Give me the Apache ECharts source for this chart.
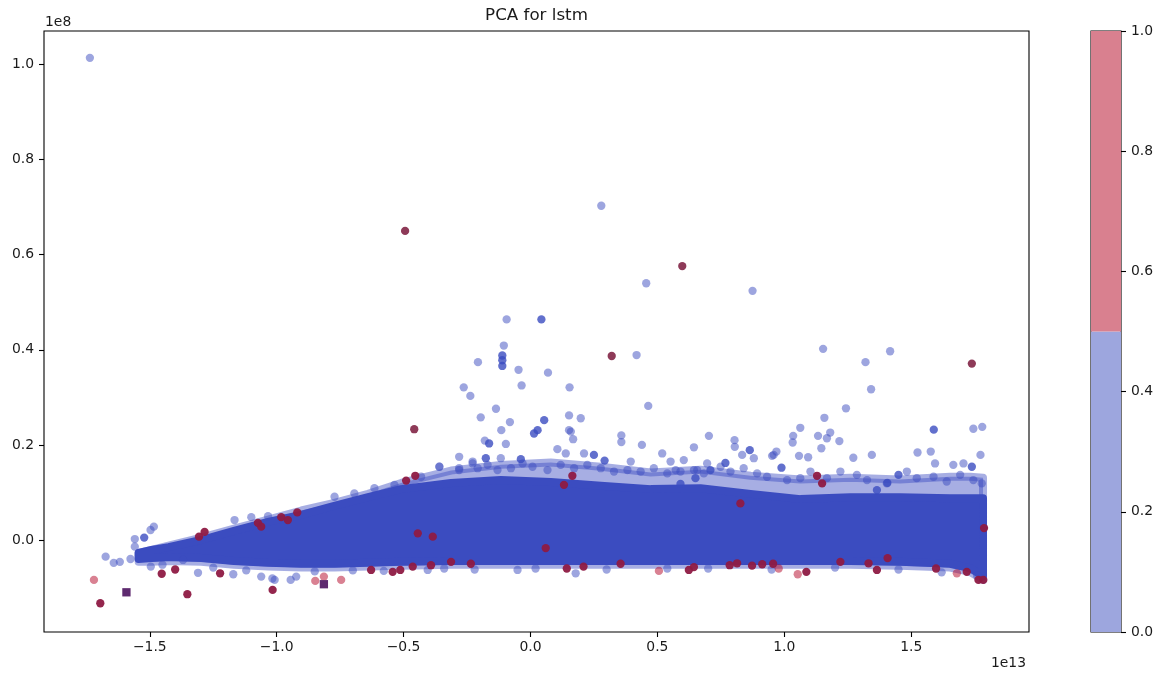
<!DOCTYPE html>
<html>
<head>
<meta charset="utf-8">
<title>PCA for lstm</title>
<script src="https://cdn.jsdelivr.net/npm/echarts@6/dist/echarts.min.js"></script>
<style>
  html, body { margin: 0; padding: 0; background: #fff; }
  #chart { width: 1161px; height: 678px; }
</style>
</head>
<body>
<div id="chart"></div>
<script>
// PC1 in units of 1e13, PC2 in units of 1e8.

// Axis ranges and tick labels
const xRange = [-1.9168, 1.9642];
const yRange = [-0.1935, 1.0705];
const xTicks = [-1.5, -1.0, -0.5, 0.0, 0.5, 1.0, 1.5];
const yTicks = [0.0, 0.2, 0.4, 0.6, 0.8, 1.0];

// Envelope of the dense class-0 cloud (point centres)
const cloudX      = [-1.544, -1.493, -1.426, -1.297, -1.168, -1.034, -0.903, -0.773, -0.640, -0.510, -0.313, -0.117, 0.080, 0.277, 0.474, 0.670, 0.867, 1.064, 1.260, 1.456, 1.653, 1.732, 1.783];
const coreTop     = [-0.027, -0.021, -0.015, 0.000, 0.019, 0.038, 0.053, 0.072, 0.090, 0.107, 0.120, 0.126, 0.122, 0.114, 0.107, 0.109, 0.097, 0.086, 0.090, 0.090, 0.088, 0.088, 0.088];
const coreBottom  = [-0.040, -0.038, -0.036, -0.038, -0.044, -0.048, -0.050, -0.050, -0.048, -0.046, -0.044, -0.044, -0.044, -0.044, -0.044, -0.044, -0.044, -0.044, -0.044, -0.046, -0.050, -0.059, -0.076];
const fringeTop   = [-0.027, -0.021, -0.012, 0.005, 0.024, 0.043, 0.062, 0.078, 0.097, 0.120, 0.146, 0.158, 0.163, 0.154, 0.142, 0.148, 0.135, 0.127, 0.131, 0.127, 0.133, 0.133, 0.131];
const fringeBottom= [-0.046, -0.046, -0.044, -0.046, -0.052, -0.056, -0.058, -0.058, -0.056, -0.054, -0.052, -0.052, -0.052, -0.052, -0.052, -0.052, -0.052, -0.052, -0.052, -0.054, -0.058, -0.067, -0.084];

// Scattered class-0 points outside the dense cloud
const class0Sparse = [
  [-1.736, 1.014], [0.279, 0.703], [0.456, 0.540], [0.875, 0.524], [-0.094, 0.464],
  [-0.105, 0.409], [-0.207, 0.374], [-0.047, 0.358], [0.069, 0.352], [0.418, 0.389],
  [-0.263, 0.321], [-0.035, 0.325], [0.154, 0.321], [-0.237, 0.303], [-0.136, 0.276],
  [0.464, 0.282], [-0.196, 0.258], [-0.081, 0.248], [0.152, 0.262], [0.198, 0.256],
  [-0.115, 0.231], [0.152, 0.231], [0.703, 0.219], [0.358, 0.220], [0.358, 0.206],
  [0.439, 0.200], [0.644, 0.195], [0.804, 0.210], [-0.180, 0.209], [-0.097, 0.202],
  [1.153, 0.402], [1.417, 0.397], [1.320, 0.374], [1.342, 0.317], [1.243, 0.277],
  [1.158, 0.257], [1.063, 0.236], [1.745, 0.234], [1.780, 0.238], [1.035, 0.219],
  [1.033, 0.205], [1.133, 0.219], [1.181, 0.226], [1.217, 0.208], [1.146, 0.193],
  [1.058, 0.177], [1.094, 0.174], [1.272, 0.173], [1.345, 0.179], [1.525, 0.184],
  [1.577, 0.186], [1.773, 0.179], [0.952, 0.177], [1.168, 0.214], [0.805, 0.196],
  [0.834, 0.179], [0.880, 0.172], [0.958, 0.179], [0.969, 0.186], [1.594, 0.161],
  [1.666, 0.158], [1.706, 0.161], [-1.674, -0.035], [-1.642, -0.048], [-1.618, -0.046],
  [-1.576, -0.040], [-1.559, 0.002], [-1.497, 0.021], [-1.484, 0.028], [-1.559, -0.014],
  [-1.496, -0.056], [-1.369, -0.042], [-1.310, -0.069], [-1.171, -0.072], [-1.061, -0.077],
  [-1.008, -0.084], [-0.945, -0.084], [-0.923, -0.077], [-1.017, -0.081], [-0.578, -0.065],
  [-0.405, -0.063], [-0.340, -0.060], [-0.051, -0.063], [0.178, -0.070], [0.539, -0.060],
  [-0.281, 0.175], [-0.359, 0.154], [-0.281, 0.147], [-0.228, 0.165], [-0.208, 0.151],
  [-0.117, 0.172], [0.106, 0.191], [0.139, 0.182], [0.211, 0.182], [0.168, 0.212],
  [0.395, 0.165], [0.519, 0.182], [0.552, 0.165], [0.572, 0.147], [0.604, 0.168],
  [0.657, 0.147], [0.159, 0.228],
  // along the upper edge of the cloud
  [-0.431, 0.133], [-0.359, 0.154], [-0.281, 0.151], [-0.228, 0.161], [-0.169, 0.158],
  [-0.130, 0.147], [-0.077, 0.151], [-0.031, 0.161], [0.008, 0.154], [0.067, 0.147],
  [0.119, 0.158], [0.172, 0.151], [0.224, 0.158], [0.277, 0.151], [0.329, 0.144],
  [0.382, 0.147], [0.434, 0.144], [0.486, 0.151], [0.539, 0.140], [0.591, 0.144],
  [0.644, 0.147], [0.683, 0.140], [0.696, 0.161], [0.749, 0.154], [0.788, 0.144],
  [0.840, 0.151], [0.893, 0.140], [0.932, 0.133], [1.011, 0.126], [1.063, 0.130],
  [1.103, 0.144], [1.168, 0.130], [1.221, 0.144], [1.286, 0.137], [1.326, 0.126],
  [1.404, 0.119], [1.483, 0.144], [1.522, 0.130], [1.588, 0.133], [1.640, 0.123],
  [1.693, 0.137], [1.745, 0.126], [1.778, 0.119], [-0.772, 0.091], [-0.694, 0.098],
  [-0.615, 0.109], [-0.536, 0.116], [-1.166, 0.042], [-1.100, 0.048], [-1.034, 0.050],
  // along the lower edge of the cloud
  [-1.450, -0.052], [-1.250, -0.058], [-1.120, -0.064], [-0.850, -0.066], [-0.700, -0.064],
  [-0.220, -0.062], [0.020, -0.060], [0.300, -0.062], [0.700, -0.060], [0.950, -0.062],
  [1.200, -0.058], [1.450, -0.062], [1.620, -0.068], [1.760, -0.075]
];

// Class-0 locations where several records coincide
const class0Stacked = [
  [0.043, 0.464], [-0.111, 0.388], [-0.111, 0.378], [-0.111, 0.366], [0.014, 0.224],
  [0.028, 0.231], [0.054, 0.252], [-0.163, 0.203], [-0.176, 0.172], [0.250, 0.179],
  [0.292, 0.167], [-0.038, 0.170], [1.589, 0.232], [0.864, 0.189], [0.989, 0.152],
  [-1.522, 0.005], [1.365, 0.105], [1.406, 0.120], [1.450, 0.137], [1.739, 0.154],
  [0.591, 0.118], [0.650, 0.130], [0.709, 0.147], [0.768, 0.162]
];

// Class-1 points
const class1Single = [
  [-1.720, -0.084], [-0.848, -0.086], [-0.814, -0.077], [0.506, -0.065], [0.978, -0.060],
  [1.053, -0.072], [1.680, -0.070], [-0.746, -0.084]
];
const class1Isolated = [
  [-0.494, 0.650], [0.598, 0.576], [0.320, 0.387], [1.739, 0.371], [-0.458, 0.233]
];
const class1Stacked = [
  [-1.695, -0.133], [-1.453, -0.071], [-1.400, -0.062], [-1.352, -0.114], [-1.223, -0.070],
  [-1.016, -0.105], [-0.628, -0.063], [-0.543, -0.067], [-0.513, -0.063], [-1.306, 0.007],
  [-1.284, 0.017], [-1.074, 0.036], [-1.061, 0.028], [-0.982, 0.048], [-0.956, 0.042],
  [-0.919, 0.058], [-0.490, 0.125], [-0.454, 0.135], [0.165, 0.135], [0.132, 0.116],
  [-0.464, -0.056], [-0.392, -0.053], [-0.313, -0.046], [-0.235, -0.050], [0.143, -0.060],
  [0.209, -0.056], [0.355, -0.050], [0.624, -0.063], [0.644, -0.057], [0.785, -0.053],
  [0.814, -0.049], [0.873, -0.054], [0.913, -0.051], [0.956, -0.050], [1.087, -0.067],
  [1.221, -0.046], [1.332, -0.049], [1.365, -0.063], [1.407, -0.038], [1.598, -0.060],
  [1.719, -0.067], [1.765, -0.084], [1.784, -0.084], [1.787, 0.025], [1.129, 0.135],
  [1.149, 0.119], [0.827, 0.077], [0.060, -0.017], [-0.444, 0.014], [-0.385, 0.007]
];
// Mixed-class coincident records
const mixedPoints = [[-1.592, -0.110], [-0.814, -0.093]];

// Colour bar levels
const cbBounds = [0.0, 0.5, 1.0];
const cbColors = ['#9da6de', '#d9808f'];

const fmt = v => (v < 0 ? '\u2212' : '') + Math.abs(v).toFixed(1);
const FONT = 'DejaVu Sans';
const TXT = '#1a1a1a';

function envelope(xs, tops, bottoms, fill) {
  return function (params, api) {
    if (params.dataIndex !== 0) return null;
    const pts = [];
    for (let i = 0; i < xs.length; i++) pts.push(api.coord([xs[i], tops[i]]));
    for (let i = xs.length - 1; i >= 0; i--) pts.push(api.coord([xs[i], bottoms[i]]));
    return {
      type: 'polygon',
      shape: { points: pts },
      style: { fill: fill, stroke: fill, lineWidth: 8, lineJoin: 'round' }
    };
  };
}

function colorBar(params, api) {
  const i = params.dataIndex;
  const p0 = api.coord([0, cbBounds[i]]);
  const p1 = api.coord([1, cbBounds[i + 1]]);
  return {
    type: 'rect',
    shape: { x: p0[0], y: p1[1], width: p1[0] - p0[0], height: p0[1] - p1[1] },
    style: { fill: cbColors[i] }
  };
}

const scatter = (data, color, opacity, symbol) => ({
  type: 'scatter', xAxisIndex: 0, yAxisIndex: 0, data: data,
  symbol: symbol || 'circle', symbolSize: 8.3, silent: true,
  itemStyle: { color: color, opacity: opacity }
});

const tickStyle = { color: '#000', width: 1.1 };

const chart = echarts.init(document.getElementById('chart'), null, { renderer: 'canvas' });
chart.setOption({
  animation: false,
  backgroundColor: '#ffffff',
  grid: [
    { left: 44, top: 31, width: 985, height: 601, show: true, borderColor: '#000', borderWidth: 1.1, backgroundColor: 'transparent' },
    { left: 1091, top: 31, width: 30, height: 601, show: true, borderColor: '#000', borderWidth: 1.1, backgroundColor: 'transparent' }
  ],
  xAxis: [
    {
      gridIndex: 0, type: 'value', min: xRange[0], max: xRange[1], position: 'bottom',
      axisLine: { show: false, onZero: false }, splitLine: { show: false },
      axisTick: { show: true, length: 5, lineStyle: tickStyle, customValues: xTicks },
      axisLabel: { margin: 8, color: TXT, fontFamily: FONT, fontSize: 13.9, customValues: xTicks, formatter: fmt }
    },
    { gridIndex: 1, type: 'value', min: 0, max: 1, show: false, axisLine: { onZero: false } }
  ],
  yAxis: [
    {
      gridIndex: 0, type: 'value', min: yRange[0], max: yRange[1], position: 'left',
      axisLine: { show: false, onZero: false }, splitLine: { show: false },
      axisTick: { show: true, length: 5, lineStyle: tickStyle, customValues: yTicks },
      axisLabel: { margin: 10, color: TXT, fontFamily: FONT, fontSize: 13.9, customValues: yTicks, formatter: fmt }
    },
    {
      gridIndex: 1, type: 'value', position: 'right', min: 0, max: 1, interval: 0.2,
      axisLine: { show: false, onZero: false }, splitLine: { show: false },
      axisTick: { show: true, length: 5, lineStyle: tickStyle },
      axisLabel: { margin: 10, color: TXT, fontFamily: FONT, fontSize: 13.9, formatter: v => v.toFixed(1) }
    }
  ],
  graphic: [
    { type: 'text', x: 536.5, y: 16, style: { text: 'PCA for lstm', font: '16.7px "DejaVu Sans"', fill: TXT, align: 'center', verticalAlign: 'middle' } },
    { type: 'text', x: 45, y: 22, style: { text: '1e8', font: '13.9px "DejaVu Sans"', fill: TXT, align: 'left', verticalAlign: 'middle' } },
    { type: 'text', x: 1026, y: 663, style: { text: '1e13', font: '13.9px "DejaVu Sans"', fill: TXT, align: 'right', verticalAlign: 'middle' } }
  ],
  series: [
    {
      type: 'custom', xAxisIndex: 0, yAxisIndex: 0, silent: true, clip: true,
      data: cloudX.map((x, i) => [x, fringeTop[i]]),
      renderItem: envelope(cloudX, fringeTop, fringeBottom, 'rgba(59,76,192,0.45)')
    },
    {
      type: 'custom', xAxisIndex: 0, yAxisIndex: 0, silent: true, clip: true,
      data: cloudX.map((x, i) => [x, coreTop[i]]),
      renderItem: envelope(cloudX, coreTop, coreBottom, '#3b4cc0')
    },
    scatter(class0Sparse, '#3b4cc0', 0.5),
    scatter(class0Stacked, '#3b4cc0', 0.8),
    scatter(class1Single, '#b40426', 0.5),
    scatter(class1Isolated, '#8e3a58', 1),
    scatter(class1Stacked, '#8e1a43', 0.95),
    scatter(mixedPoints, '#5e2a6f', 1, 'rect'),
    {
      type: 'custom', xAxisIndex: 1, yAxisIndex: 1, silent: true,
      data: cbColors.map((c, i) => [0, cbBounds[i]]),
      renderItem: colorBar
    }
  ]
});
</script>
</body>
</html>
